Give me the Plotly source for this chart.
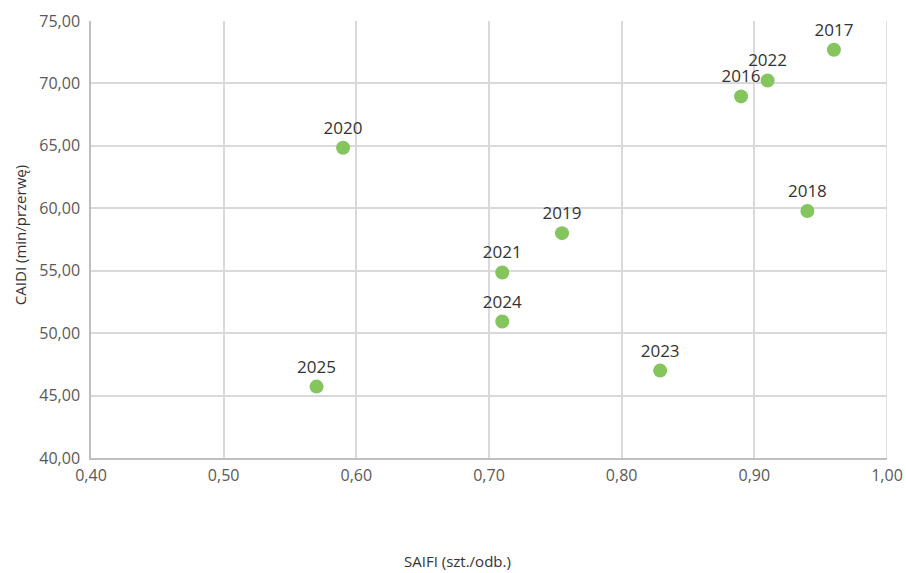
import plotly.graph_objects as go

# Reliability indices per year
years = ["2016", "2017", "2018", "2019", "2020", "2021", "2022", "2023", "2024", "2025"]
saifi = [0.890, 0.960, 0.940, 0.755, 0.590, 0.710, 0.910, 0.829, 0.710, 0.570]
caidi = [68.96, 72.70, 59.78, 58.01, 64.85, 54.86, 70.24, 47.00, 50.93, 45.72]

x_ticks = [0.4, 0.5, 0.6, 0.7, 0.8, 0.9, 1.0]
y_ticks = [40, 45, 50, 55, 60, 65, 70, 75]

fig = go.Figure(
    go.Scatter(
        x=saifi,
        y=caidi,
        mode="markers+text",
        text=years,
        textposition="top center",
        textfont=dict(family="Open Sans, sans-serif", size=17, color="#333333"),
        marker=dict(size=14, color="#84C55E", line=dict(width=0)),
        cliponaxis=False,
        hoverinfo="x+y+text",
    )
)

grid = "#d9d9d9"
fig.update_layout(
    width=906,
    height=573,
    margin=dict(l=91, r=19, t=21, b=115, autoexpand=False),
    paper_bgcolor="white",
    plot_bgcolor="white",
    separators=", ",
    showlegend=False,
    font=dict(family="Open Sans, sans-serif", color="#595959"),
    annotations=[
        dict(text="SAIFI (szt./odb.)", xref="paper", yref="paper", x=0.46, y=0,
             yshift=-103, xanchor="center", yanchor="middle", showarrow=False,
             font=dict(size=15, color="#333333")),
        dict(text="CAIDI (min/przerwę)", xref="paper", yref="paper", x=0, y=0.51,
             xshift=-71, xanchor="center", yanchor="middle", textangle=-90,
             showarrow=False, font=dict(size=15, color="#333333")),
    ],
)
fig.update_xaxes(
    range=[0.4, 1.0],
    tickvals=x_ticks,
    tickformat=".2f",
    showgrid=True,
    gridcolor=grid,
    gridwidth=1.5,
    showline=True,
    linecolor="#bfbfbf",
    linewidth=2,
    zeroline=False,
    ticks="",
    ticklabelstandoff=2,
    automargin=False,
    tickfont=dict(size=16, color="#595959"),
)
fig.update_yaxes(
    range=[40, 75],
    tickvals=y_ticks,
    tickformat=".2f",
    showgrid=True,
    gridcolor=grid,
    gridwidth=1.5,
    showline=True,
    linecolor="#bfbfbf",
    linewidth=1.5,
    zeroline=False,
    ticks="",
    ticklabelstandoff=6,
    automargin=False,
    tickfont=dict(size=16, color="#595959"),
)
# Right-hand frame edge at the 1,00 gridline
fig.add_shape(type="line", xref="x", yref="paper", x0=1.0, x1=1.0, y0=0, y1=1,
              line=dict(color=grid, width=1.5))

fig.write_html("out.html")
